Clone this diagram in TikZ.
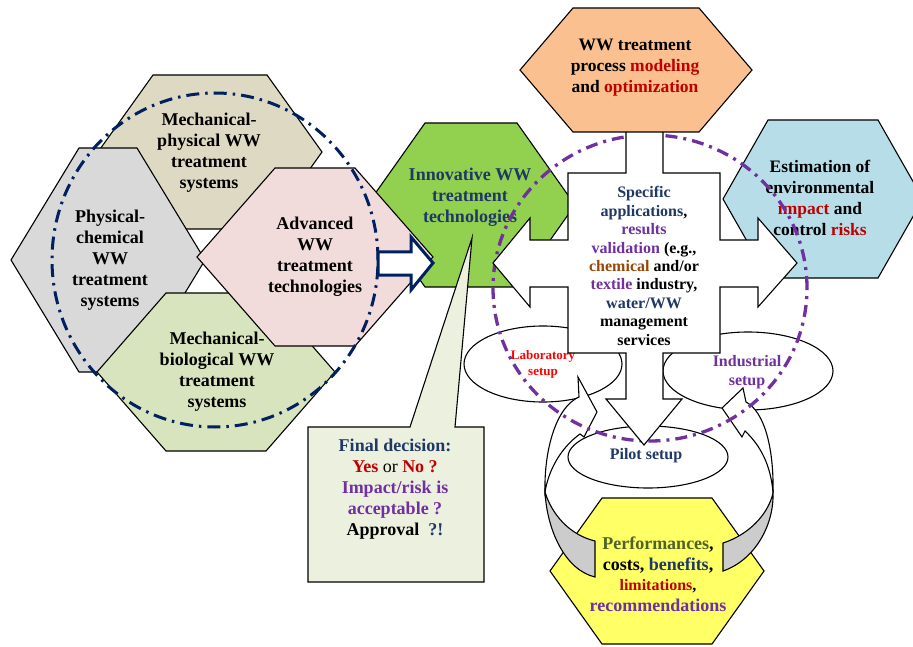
\documentclass[tikz,border=0pt]{standalone}
\usepackage{fontspec}
\setmainfont{Liberation Serif}
\definecolor{cNavy}{HTML}{1F3864}
\definecolor{cCirc}{HTML}{002060}
\definecolor{cPurp}{HTML}{7030A0}
\definecolor{cRed}{HTML}{C00000}
\definecolor{cBrightRed}{HTML}{FF0000}
\definecolor{cBrown}{HTML}{984806}
\definecolor{cOlive}{HTML}{4F6228}
\definecolor{fBeige}{HTML}{DDD9C3}
\definecolor{fGray}{HTML}{D9D9D9}
\definecolor{fPink}{HTML}{F2DCDB}
\definecolor{fBio}{HTML}{D7E4BD}
\definecolor{fInnov}{HTML}{92D050}
\definecolor{fOrange}{HTML}{FAC090}
\definecolor{fBlue}{HTML}{B7DEE8}
\definecolor{fYellow}{HTML}{FFFF66}
\definecolor{fCallout}{HTML}{EBF1DE}
\definecolor{fBack}{HTML}{CCCCCC}
\newcommand{\hexat}[6]{\path[hexbox,fill=#1] (#2-#4,#3) -- (#2-#5,#3-#6) -- (#2+#5,#3-#6) -- (#2+#4,#3) -- (#2+#5,#3+#6) -- (#2-#5,#3+#6) -- cycle;}
\begin{document}
\begin{tikzpicture}[x=1pt,y=-1pt,
  hexbox/.style={draw=black,line width=1.1pt,line join=miter},
  txt/.style={align=center,inner sep=0pt,font=\fontsize{18}{21}\selectfont\bfseries},
  smalltxt/.style={align=center,inner sep=0pt,font=\fontsize{16}{18.4}\selectfont\bfseries},
  ellbox/.style={draw=black,fill=white,line width=1.1pt},
  outline/.style={draw=black,line width=1.1pt,line join=miter},
  navycirc/.style={draw=cCirc,line width=3pt,dash pattern=on 13pt off 6pt on 2.5pt off 6pt},
  purpcirc/.style={draw=cPurp,line width=3.3pt,dash pattern=on 12pt off 6pt on 3pt off 6pt}]
\useasboundingbox (0,0) rectangle (913,647);
\fill[white] (0,0) rectangle (913,647);

% left cluster
\hexat{fBeige}{210}{152}{112}{57}{77}
\hexat{fGray}{108}{260}{97}{29}{112}
\hexat{fBio}{216}{372}{119}{50}{79}
\hexat{fInnov}{471}{205}{104}{46}{82}
\hexat{fPink}{315}{257}{118}{40}{89}

\node[txt] (mp) at (209,153) {Mechanical-\\physical WW\\treatment\\systems};
\node[txt] (pc) at (110,260) {Physical-\\chemical\\WW\\treatment\\systems};
\node[txt] (adv) at (315,257) {Advanced\\WW\\treatment\\technologies};
\node[txt] (mb) at (217,372) {Mechanical-\\biological WW\\treatment\\systems};

\draw[navycirc] (215,260) ellipse [x radius=163pt,y radius=167pt];

% block arrow to innovative
\path[draw=cCirc,fill=white,line width=3pt,line join=miter]
  (378,252) -- (411,252) -- (411,237) -- (433,263) -- (411,290) -- (411,275) -- (378,275) -- cycle;

\node[txt,text=cNavy] (inn) at (470,197) {Innovative WW\\treatment\\technologies};

% callout
\path[outline,fill=fCallout] (308,427) -- (410,427) -- (472,238) -- (455,427) -- (484,427) -- (484,582) -- (308,582) -- cycle;
\node[txt] (fd) at (395,489) {\textcolor{cNavy}{Final decision:}\\\textcolor{cRed}{Yes} {\mdseries or} \textcolor{cRed}{No ?}\\\textcolor{cPurp}{Impact/risk is}\\\textcolor{cPurp}{acceptable ?}\\Approval\ \ \textcolor{cNavy}{?!}};

% blue hexagon
\hexat{fBlue}{823}{199}{100}{55}{79}
\node[txt,font=\fontsize{17.5}{21}\selectfont\bfseries] (est) at (820,198) {Estimation of\\environmental\\\textcolor{cRed}{impact} and\\control \textcolor{cRed}{risks}};

% yellow hexagon
\hexat{fYellow}{657}{571}{107}{55}{73}
\node[txt,font=\fontsize{18}{20.5}\selectfont\bfseries] (perf) at (658,574) {\textcolor{cOlive}{Performances},\\costs, \textcolor{cNavy}{benefits},\\{\fontsize{16}{20.5}\selectfont\textcolor{cRed}{limitations},}\\\textcolor{cPurp}{recommendations}};

% setup ellipses
\draw[ellbox] (543,364) ellipse [x radius=79pt,y radius=38pt];
\draw[ellbox] (748,371) ellipse [x radius=85pt,y radius=39pt];
\draw[ellbox] (648,457) ellipse [x radius=80pt,y radius=31pt];
\node[align=center,inner sep=0pt,font=\fontsize{13}{16}\selectfont\bfseries,text=cBrightRed] (lab) at (543,364) {Laboratory\\setup};
\node[smalltxt,text=cPurp] (ind) at (747,372) {Industrial\\setup};
\node[smalltxt,text=cNavy] (pil) at (646,456) {Pilot setup};

% curved arrows
\path[outline,fill=white] (578,377) -- (597,412) -- (584,437) -- (580,434)
  .. controls (562,447) and (549,468) .. (545,492)
  .. controls (544,450) and (556,407) .. (579,397) -- cycle;
\path[outline,fill=fBack] (545,492) .. controls (547,530) and (565,570) .. (595,577)
  -- (595,541) .. controls (570,535) and (552,515) .. (545,492) -- cycle;
\path[outline,fill=white] (743,388) -- (722,408) -- (742,437) -- (745,431)
  .. controls (760,445) and (771,465) .. (773,493)
  .. controls (774,450) and (765,412) .. (746,402) -- cycle;
\path[outline,fill=fBack] (773,493) .. controls (774,525) and (755,560) .. (723,571)
  -- (723,543) .. controls (748,535) and (768,515) .. (773,493) -- cycle;

% purple circle
\draw[purpcirc] (650,288) ellipse [x radius=157pt,y radius=153pt];

% cross arrow
\path[outline,fill=white] (626,125) -- (626,173) -- (568,173) -- (568,240) -- (530,240) -- (530,218) -- (493,263)
  -- (530,307) -- (530,287) -- (568,287) -- (568,353) -- (626,353) -- (626,399) -- (606,399) -- (644,445)
  -- (682,399) -- (663,399) -- (663,353) -- (720,353) -- (720,287) -- (758,287) -- (758,307) -- (797,263)
  -- (758,218) -- (758,240) -- (720,240) -- (720,173) -- (663,173) -- (663,125) -- cycle;
\node[smalltxt] (spec) at (644,266) {\textcolor{cNavy}{Specific}\\\textcolor{cNavy}{applications},\\\textcolor{cPurp}{results}\\\textcolor{cPurp}{validation} (e.g.,\\\textcolor{cBrown}{chemical} and/or\\\textcolor{cPurp}{textile} industry,\\\textcolor{cNavy}{water/WW}\\management\\services};

% orange hexagon
\hexat{fOrange}{636}{70}{116}{63}{62}
\node[txt,font=\fontsize{17.5}{21}\selectfont\bfseries] (mod) at (635,68) {WW treatment\\process \textcolor{cRed}{modeling}\\and \textcolor{cRed}{optimization}};
\end{tikzpicture}
\end{document}
